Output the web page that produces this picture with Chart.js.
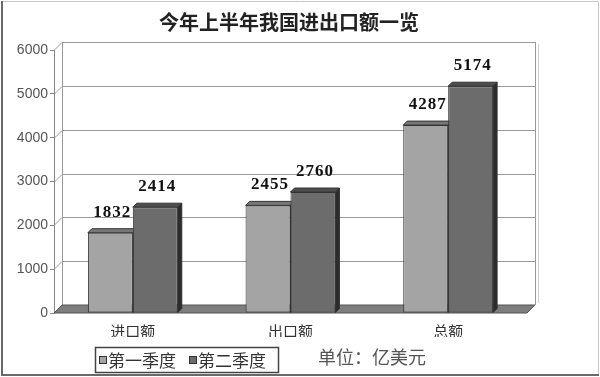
<!DOCTYPE html>
<html>
<head>
<meta charset="utf-8">
<script src="https://cdn.jsdelivr.net/npm/chart.js@4.4.0/dist/chart.umd.min.js"></script>
<style>
  body { margin: 0; background: #fff; }
  #wrap { width: 600px; height: 377px; }
</style>
</head>
<body>
<div id="wrap"><canvas id="chart" width="600" height="377"></canvas></div>
<script>
// Chart data
const categories = ['进口额', '出口额', '总额'];
const seriesNames = ['第一季度', '第二季度'];
const q1Values = [1832, 2455, 4287];
const q2Values = [2414, 2760, 5174];
const yMax = 6000;
const yStep = 1000;
const titleText = '今年上半年我国进出口额一览';
const unitText = '单位：亿美元';

// colours: front, top face, side face
const palette = [
    { front: '#a4a4a4', top: '#777777', side: '#5e5e5e' },
    { front: '#6c6c6c', top: '#4e4e4e', side: '#2c2c2c' }
];

const wallDepth = 8;
const barDepth = 4;

// back wall, floor and 3D faces of the bars (drawn before the flat fronts)
const threeD = {
    id: 'threeD',
    beforeDatasetsDraw(chart) {
        const ctx = chart.ctx;
        const a = chart.chartArea;
        const y = chart.scales.y;
        ctx.save();
        ctx.lineWidth = 1;
        ctx.strokeStyle = '#9a9a9a';
        y.ticks.forEach(t => {
            const py = Math.round(y.getPixelForValue(t.value)) + 0.5;
            ctx.beginPath();
            ctx.moveTo(a.left, py);
            ctx.lineTo(a.left + wallDepth, py - wallDepth);
            ctx.lineTo(a.right + wallDepth, py - wallDepth);
            ctx.stroke();
        });
        // wall edges
        ctx.beginPath();
        ctx.moveTo(a.left + wallDepth + 0.5, a.top - wallDepth);
        ctx.lineTo(a.left + wallDepth + 0.5, a.bottom - wallDepth);
        ctx.moveTo(a.right + wallDepth + 0.5, a.top - wallDepth);
        ctx.lineTo(a.right + wallDepth + 0.5, a.bottom - wallDepth);
        ctx.stroke();
        ctx.strokeStyle = '#d0d0d0';
        ctx.beginPath();
        ctx.moveTo(a.right + wallDepth + 3.5, a.top - wallDepth + 2);
        ctx.lineTo(a.right + wallDepth + 3.5, a.bottom - wallDepth - 2);
        ctx.stroke();

        // floor
        ctx.fillStyle = '#7e7e7e';
        ctx.strokeStyle = '#555';
        ctx.beginPath();
        ctx.moveTo(a.left, a.bottom);
        ctx.lineTo(a.right, a.bottom);
        ctx.lineTo(a.right + wallDepth, a.bottom - wallDepth);
        ctx.lineTo(a.left + wallDepth, a.bottom - wallDepth);
        ctx.closePath();
        ctx.fill();
        ctx.stroke();

        // bar top and side faces
        chart.data.datasets.forEach((ds, i) => {
            const meta = chart.getDatasetMeta(i);
            meta.data.forEach(bar => {
                const l = bar.x - bar.width / 2;
                const r = bar.x + bar.width / 2;
                ctx.strokeStyle = '#333';
                ctx.fillStyle = palette[i].top;
                ctx.beginPath();
                ctx.moveTo(l, bar.y);
                ctx.lineTo(l + barDepth, bar.y - barDepth);
                ctx.lineTo(r + barDepth, bar.y - barDepth);
                ctx.lineTo(r, bar.y);
                ctx.closePath();
                ctx.fill();
                ctx.stroke();
                ctx.fillStyle = palette[i].side;
                ctx.beginPath();
                ctx.moveTo(r, bar.y);
                ctx.lineTo(r + barDepth, bar.y - barDepth);
                ctx.lineTo(r + barDepth, bar.base - barDepth);
                ctx.lineTo(r, bar.base);
                ctx.closePath();
                ctx.fill();
                ctx.stroke();
            });
        });
        ctx.restore();
    },
    afterDatasetsDraw(chart) {
        const ctx = chart.ctx;
        ctx.save();
        ctx.font = 'bold 17px "Liberation Serif"';
        ctx.letterSpacing = '1px';
        ctx.fillStyle = '#111';
        ctx.textAlign = 'center';
        ctx.textBaseline = 'bottom';
        chart.data.datasets.forEach((ds, i) => {
            chart.getDatasetMeta(i).data.forEach((bar, j) => {
                ctx.fillText(String(ds.data[j]), bar.x + barDepth / 2, bar.y - barDepth - 8);
            });
        });
        ctx.restore();
    },
    afterDraw(chart) {
        const ctx = chart.ctx;
        ctx.save();
        // outer frame
        ctx.lineWidth = 1;
        ctx.strokeStyle = '#c8c8c8';
        ctx.beginPath();
        ctx.moveTo(2, 1.5); ctx.lineTo(598.5, 1.5); ctx.lineTo(598.5, 375);
        ctx.stroke();
        ctx.lineWidth = 2;
        ctx.strokeStyle = '#6a6a6a';
        ctx.beginPath();
        ctx.moveTo(2, 1); ctx.lineTo(2, 375); ctx.lineTo(599, 375);
        ctx.stroke();

        // title
        ctx.fillStyle = '#222';
        ctx.font = 'bold 20px "Noto Sans CJK SC"';
        ctx.textAlign = 'center';
        ctx.textBaseline = 'middle';
        ctx.fillText(titleText, 289, 22);

        // legend
        ctx.lineWidth = 1.5;
        ctx.strokeStyle = '#444';
        ctx.strokeRect(95.5, 347.5, 183, 25);
        ctx.lineWidth = 1;
        ctx.font = '17px "Noto Sans CJK SC"';
        ctx.textAlign = 'left';
        const items = [99, 189];
        seriesNames.forEach((name, i) => {
            ctx.fillStyle = palette[i].front;
            ctx.fillRect(items[i] + 0.5, 356.5, 7, 7);
            ctx.strokeStyle = '#333';
            ctx.strokeRect(items[i] + 0.5, 356.5, 7, 7);
            ctx.fillStyle = '#333';
            ctx.fillText(name, items[i] + 9, 361);
        });

        // unit note
        ctx.fillStyle = '#555';
        ctx.font = '18px "Noto Sans CJK SC"';
        ctx.fillText(unitText, 318, 357);
        ctx.restore();
    }
};

const ctx = document.getElementById('chart').getContext('2d');
const chart = new Chart(ctx, {
    type: 'bar',
    data: {
        labels: categories,
        datasets: [
            {
                label: seriesNames[0],
                data: q1Values,
                backgroundColor: palette[0].front,
                borderColor: '#333',
                borderWidth: 1,
                borderSkipped: false,
                categoryPercentage: 0.57,
                barPercentage: 1.0
            },
            {
                label: seriesNames[1],
                data: q2Values,
                backgroundColor: palette[1].front,
                borderColor: '#333',
                borderWidth: 1,
                borderSkipped: false,
                categoryPercentage: 0.57,
                barPercentage: 1.0
            }
        ]
    },
    options: {
        responsive: false,
        animation: false,
        layout: {
            padding: { top: 50, right: 73, bottom: 40, left: 0 }
        },
        plugins: {
            legend: { display: false },
            title: { display: false },
            tooltip: { enabled: false }
        },
        scales: {
            x: {
                grid: { display: false },
                border: { display: false },
                ticks: {
                    color: '#333',
                    font: { family: '"Noto Sans CJK SC"', size: 15 },
                    padding: 1
                },
                afterFit(scale) { scale.height = 24; }
            },
            y: {
                min: 0,
                max: yMax,
                ticks: {
                    stepSize: yStep,
                    color: '#555',
                    padding: 2,
                    font: { family: '"Liberation Sans"', size: 14 },
                    callback: v => String(v)
                },
                grid: {
                    drawOnChartArea: false,
                    tickLength: 4,
                    color: '#888'
                },
                border: { color: '#888', width: 1 },
                afterFit(scale) { scale.width = 54; }
            }
        }
    },
    plugins: [threeD]
});
</script>
</body>
</html>
